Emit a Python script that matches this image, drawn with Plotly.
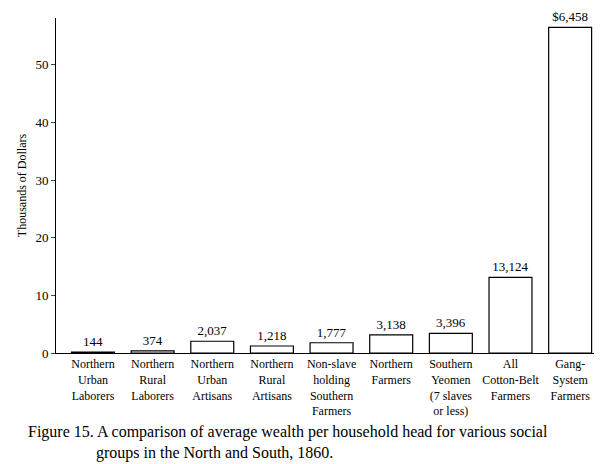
import plotly.graph_objects as go

groups = ["Northern<br>Urban<br>Laborers", "Northern<br>Rural<br>Laborers", "Northern<br>Urban<br>Artisans",
          "Northern<br>Rural<br>Artisans", "Non-slave<br>holding<br>Southern<br>Farmers", "Northern<br>Farmers",
          "Southern<br>Yeomen<br>(7 slaves<br>or less)", "All<br>Cotton-Belt<br>Farmers", "Gang-<br>System<br>Farmers"]
wealth = [144, 374, 2037, 1218, 1777, 3138, 3396, 13124, 56458]
labels = ["144", "374", "2,037", "1,218", "1,777", "3,138", "3,396", "13,124", "$6,458"]

font = dict(family="Liberation Serif", color="black", size=13)
x = list(range(len(groups)))
fig = go.Figure(go.Bar(
    x=x, y=[w / 1000 for w in wealth], width=0.72,
    marker=dict(color="white", line=dict(color="black", width=1.2)),
    text=labels, textposition="outside", cliponaxis=False, textfont=font,
))
fig.update_xaxes(tickvals=x, ticktext=groups, range=[-0.62, 8.4], showline=True, linecolor="black",
                 ticks="", automargin=False, tickfont=dict(family="Liberation Serif", size=12, color="black"))
fig.update_yaxes(range=[0, 58.1], tickvals=[0, 10, 20, 30, 40, 50], showline=True, linecolor="black",
                 ticks="outside", ticklen=4, showgrid=False, zeroline=False, automargin=False,
                 title=dict(text="Thousands of Dollars", font=dict(family="Liberation Serif", size=12, color="black"),
                            standoff=6), tickfont=font)
fig.add_annotation(x=0, y=0, xref="paper", yref="paper", xshift=-30, yshift=-68, xanchor="left", yanchor="top",
                   align="left", showarrow=False,
                   text="Figure 15. A comparison of average wealth per household head for various social<br>"
                        "                 groups in the North and South, 1860.",
                   font=dict(family="Liberation Serif", size=16, color="black"))
fig.update_layout(width=616, height=464, margin=dict(l=48, r=30, t=10, b=119),
                  plot_bgcolor="white", paper_bgcolor="white", showlegend=False, bargap=0.28)
fig.write_html("out.html")
